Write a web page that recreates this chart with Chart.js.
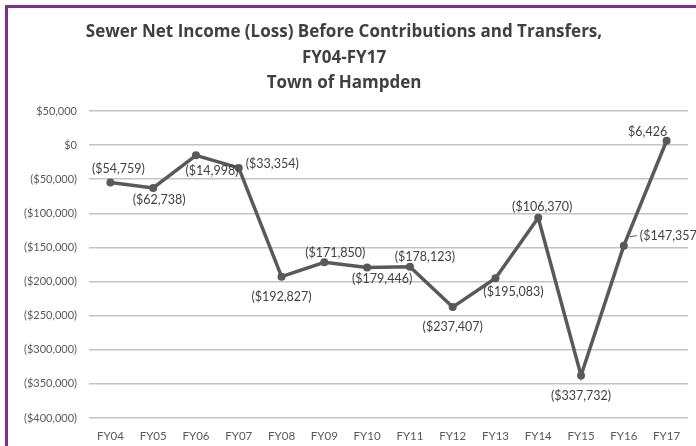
<!DOCTYPE html>
<html>
<head>
<meta charset="utf-8">
<script src="https://cdn.jsdelivr.net/npm/chart.js@4"></script>
<style>
  html, body { margin: 0; padding: 0; background: #fff; }
  #wrap { position: relative; width: 696px; height: 446px; overflow: hidden; }
  #frame { position: absolute; left: 5px; top: 5px; width: 720px; height: 460px;
           border-left: 3px solid #7a2f91; border-top: 3px solid #7a2f91; pointer-events: none; }
  canvas { position: absolute; left: 0; top: 0; }
</style>
</head>
<body>
<div id="wrap">
  <canvas id="chart" width="696" height="446"></canvas>
  <div id="frame"></div>
</div>
<script>
const years = ["FY04", "FY05", "FY06", "FY07", "FY08", "FY09", "FY10",
	"FY11", "FY12", "FY13", "FY14", "FY15", "FY16", "FY17"];
const netIncome = [-54759, -62738, -14998, -33354, -192827, -171850, -179446,
	-178123, -237407, -195083, -106370, -337732, -147357, 6426];
const titleLines = [
	"Sewer Net Income (Loss) Before Contributions and Transfers,",
	"FY04-FY17",
	"Town of Hampden"
];

function money(v) {
	const s = "$" + Math.abs(v).toString().replace(/\B(?=(\d{3})+(?!\d))/g, ",");
	return v < 0 ? "(" + s + ")" : s;
}

// where each value label sits relative to its point (dx, dy, text align)
const labelSpots = [
	[8, -14, "center"], [6, 12, "center"], [16, 16, "center"], [7, -4, "left"],
	[0, 20, "center"], [11, -9, "center"], [15, 11, "center"], [15, -10, "center"],
	[0, 20, "center"], [18, 14, "center"], [4, -11, "center"], [0, 20, "center"],
	[16, -10, "left"], [-19, -9, "center"]
];

const valueLabels = {
	id: "valueLabels",
	afterDatasetsDraw(chart) {
		const ctx = chart.ctx;
		const meta = chart.getDatasetMeta(0);
		ctx.save();
		ctx.font = "12.5px Lato";
		ctx.fillStyle = "#404040";
		ctx.textBaseline = "middle";
		meta.data.forEach((pt, i) => {
			const [dx, dy, align] = labelSpots[i];
			ctx.textAlign = align;
			ctx.fillText(money(netIncome[i]), pt.x + dx, pt.y + dy);
			if (i === 12) {
				ctx.strokeStyle = "#595959";
				ctx.lineWidth = 1;
				ctx.beginPath();
				ctx.moveTo(pt.x + 6, pt.y - 9);
				ctx.lineTo(pt.x + 13, pt.y - 10);
				ctx.stroke();
			}
		});
		ctx.restore();
	}
};

new Chart(document.getElementById("chart"), {
	type: "line",
	data: {
		labels: years,
		datasets: [{
			data: netIncome,
			borderColor: "#595959",
			backgroundColor: "#595959",
			borderWidth: 3.5,
			pointRadius: 4,
			pointBackgroundColor: "#595959",
			pointBorderWidth: 0,
			tension: 0
		}]
	},
	options: {
		responsive: false,
		animation: false,
		layout: { padding: { left: 0, right: 8, top: 0, bottom: 0 } },
		scales: {
			y: {
				min: -400000,
				max: 50000,
				afterFit: s => { s.width = 89; },
				ticks: {
					stepSize: 50000,
					padding: 12,
					color: "#595959",
					font: { family: "Lato", size: 11 },
					callback: v => money(v)
				},
				grid: { color: "#c4c4c4", lineWidth: 1.5, drawTicks: false },
				border: { display: false }
			},
			x: {
				offset: true,
				afterFit: s => { s.height = 28; },
				ticks: {
					padding: 11,
					color: "#595959",
					font: { family: "Lato", size: 11.5 }
				},
				grid: { display: false, drawTicks: false, offset: true },
				border: { display: false }
			}
		},
		plugins: {
			legend: { display: false },
			tooltip: { enabled: false },
			title: {
				display: true,
				text: titleLines,
				color: "#404040",
				font: { family: "Open Sans", size: 17, weight: "bold", lineHeight: 1.52 },
				padding: { top: 19, bottom: 14.5 }
			}
		}
	},
	plugins: [valueLabels]
});
</script>
</body>
</html>
